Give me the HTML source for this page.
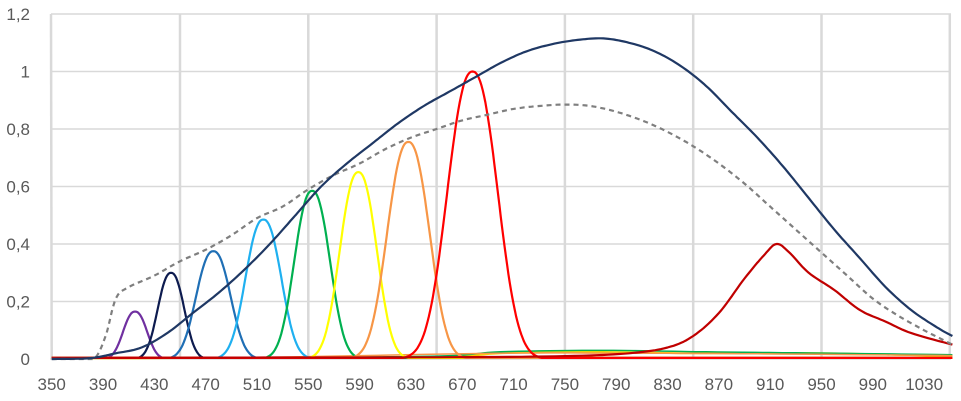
<!DOCTYPE html>
<html><head><meta charset="utf-8"><style>
body{margin:0;background:#fff;}
svg{display:block;font-family:"Liberation Sans",sans-serif;}
</style></head><body>
<svg id="s" width="961" height="401" xmlns="http://www.w3.org/2000/svg"></svg>
<script>
const s=document.getElementById('s');
const X=nm=>51.7+(nm-350)*1.283, Y=v=>359-v*287.5;
let h='';
for(let i=1;i<=6;i++){h+=`<line x1="51" x2="951" y1="${Y(i*0.2)}" y2="${Y(i*0.2)}" stroke="#d9d9d9" stroke-width="1.5"/>`;}
for(let nm=450;nm<=1050;nm+=100){h+=`<line x1="${X(nm)}" x2="${X(nm)}" y1="${Y(1.2)}" y2="359" stroke="#d9d9d9" stroke-width="2.5"/>`;}
h+=`<line x1="51" x2="${X(350)}" y1="${Y(1.2)}" y2="359" stroke="#d9d9d9" stroke-width="2.5"/>`;
h+=`<line x1="50" x2="951" y1="359" y2="359" stroke="#d9d9d9" stroke-width="1.5"/>`;
const yl=['0','0,2','0,4','0,6','0,8','1','1,2'];
yl.forEach((t,i)=>{h+=`<text x="30" y="${Y(i*0.2)+6}" text-anchor="end" font-size="17" fill="#595959">${t}</text>`;});
for(let nm=350;nm<=1030;nm+=40){h+=`<text x="${X(nm)}" y="390" text-anchor="middle" font-size="17" fill="#595959">${nm}</text>`;}
function poly(pts,col,w,dash){let d=pts.map((p,i)=>(i?'L':'M')+X(p[0]).toFixed(1)+' '+Y(p[1]).toFixed(1)).join(' ');
h+=`<path d="${d}" fill="none" stroke="${col}" stroke-width="${w}" ${dash?'stroke-dasharray="5 4"':''} stroke-linejoin="round"/>`;}
function smooth(pts){let o=[];for(let i=0;i<pts.length-1;i++){const p0=pts[Math.max(0,i-1)],p1=pts[i],p2=pts[i+1],p3=pts[Math.min(pts.length-1,i+2)];
for(let t=0;t<1;t+=0.1){const t2=t*t,t3=t2*t;const f=(a,b,c,d)=>0.5*((2*b)+(-a+c)*t+(2*a-5*b+4*c-d)*t2+(-a+3*b-3*c+d)*t3);o.push([f(p0[0],p1[0],p2[0],p3[0]),Math.max(0,f(p0[1],p1[1],p2[1],p3[1]))]);}}o.push(pts[pts.length-1]);return o;}
function gauss(c,a,sg,col){let p=[];for(let nm=350;nm<=1052;nm+=1){let v=a*Math.exp(-0.5*Math.pow(Math.abs(nm-c)/sg,2.3));v=v<0.004?0.004:v;p.push([nm,v]);}poly(p,col,2.2);}
// baseline noise
poly(smooth([[350,0.002],[500,0.004],[650,0.006],[700,0.02],[760,0.025],[850,0.02],[950,0.02],[1052,0.01]]),'#ffd700',2);
poly(smooth([[350,0.002],[500,0.005],[650,0.01],[700,0.025],[780,0.03],[860,0.025],[960,0.02],[1052,0.015]]),'#00b050',1.5);
poly(smooth([[350,0.002],[500,0.005],[700,0.02],[800,0.02],[900,0.018],[1052,0.012]]),'#f79646',1.5);
gauss(415,0.165,9,'#7030a0');
gauss(443,0.3,10,'#0d1b4f');
gauss(476,0.375,13,'#1f6fb5');
gauss(515,0.485,13.5,'#1fb0f0');
gauss(553,0.585,13.5,'#00b050');
gauss(589,0.65,14,'#ffff00');
gauss(628,0.755,16,'#f79646');
gauss(678,1.0,19,'#ff0000');
poly(smooth([[350,0.004],[500,0.005],[650,0.006],[750,0.01],[800,0.02],[830,0.04],[850,0.08],[870,0.16],[890,0.28],[905,0.36],[915,0.4],[925,0.37],[940,0.3],[960,0.24],[980,0.17],[1000,0.13],[1020,0.09],[1052,0.05]]),'#c00000',2.2);
poly(smooth([[350,0],[370,0],[383,0],[392,0.08],[400,0.21],[410,0.25],[430,0.29],[450,0.34],[470,0.38],[490,0.43],[510,0.49],[530,0.53],[550,0.59],[570,0.64],[590,0.68],[610,0.73],[630,0.77],[650,0.8],[670,0.83],[690,0.85],[710,0.87],[730,0.88],[750,0.885],[770,0.88],[790,0.86],[810,0.83],[830,0.79],[850,0.74],[870,0.68],[890,0.61],[910,0.53],[930,0.45],[950,0.37],[970,0.29],[990,0.21],[1010,0.15],[1030,0.1],[1052,0.05]]),'#7f7f7f',2.2,true);
poly(smooth([[350,0],[380,0.003],[400,0.02],[420,0.04],[440,0.09],[460,0.16],[480,0.23],[500,0.31],[520,0.4],[540,0.5],[560,0.6],[580,0.68],[600,0.75],[620,0.82],[640,0.88],[660,0.93],[680,0.98],[700,1.03],[720,1.07],[740,1.095],[760,1.11],[780,1.115],[800,1.1],[820,1.07],[840,1.02],[860,0.95],[880,0.86],[900,0.77],[920,0.67],[940,0.56],[960,0.45],[980,0.35],[1000,0.25],[1020,0.17],[1040,0.11],[1052,0.08]]),'#1f3864',2.2);
s.innerHTML=h;
</script>
</body></html>
